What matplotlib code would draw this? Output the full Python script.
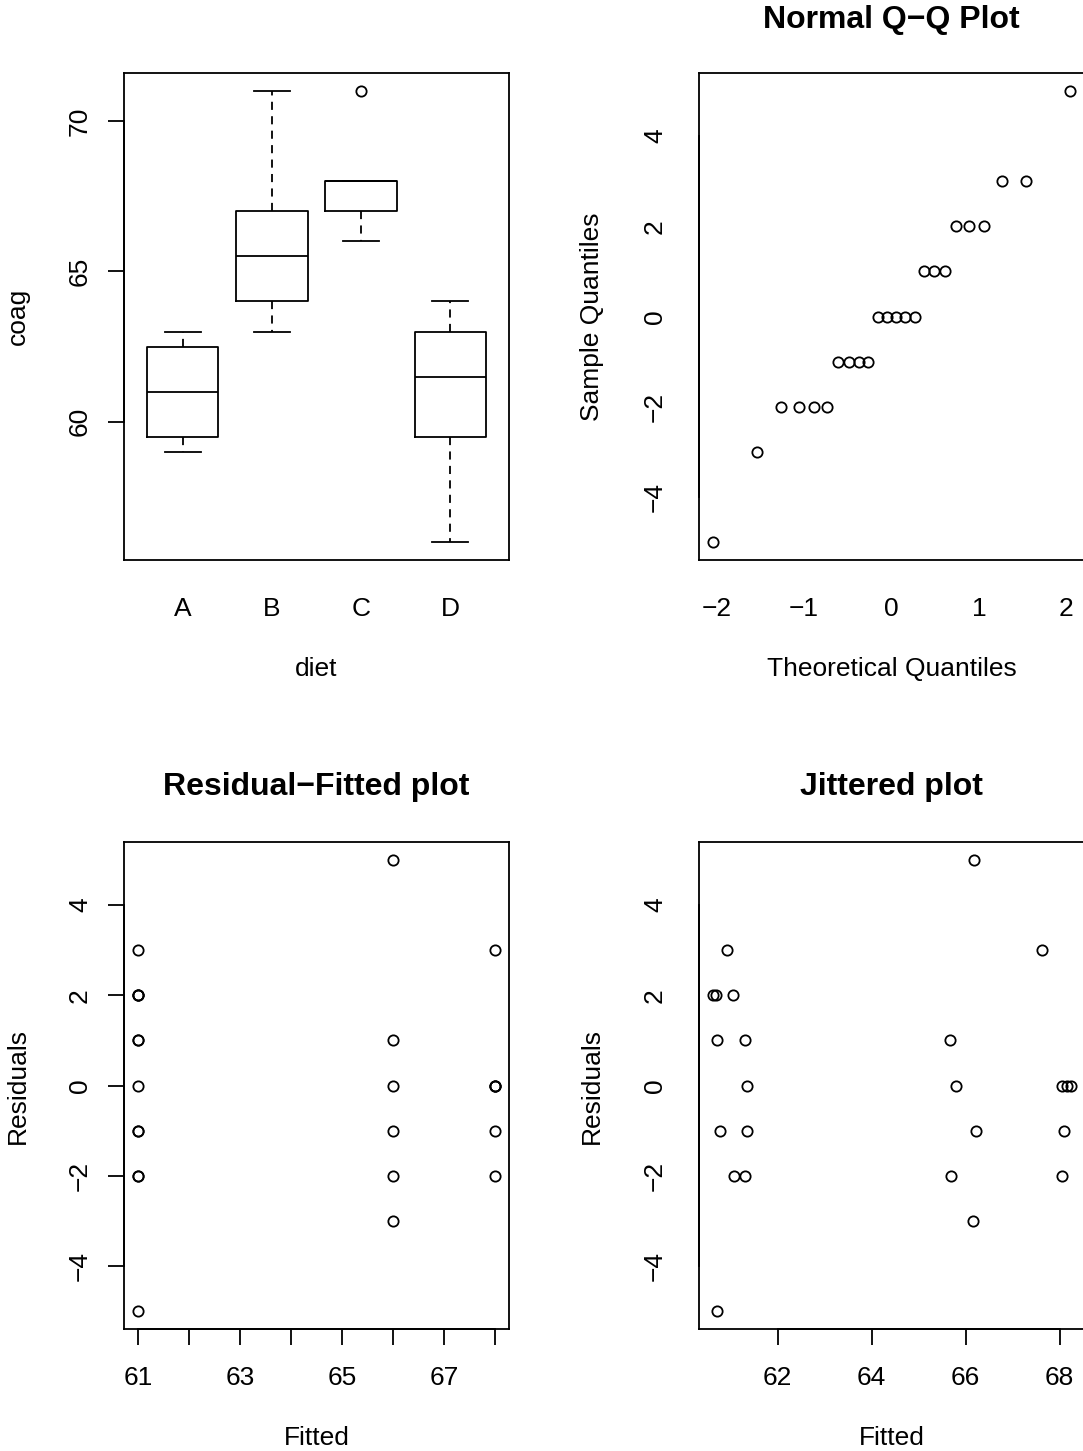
import numpy as np
import matplotlib
matplotlib.use("Agg")
import matplotlib.pyplot as plt
from statistics import NormalDist

plt.rcParams['font.family'] = ['Liberation Sans', 'DejaVu Sans']

# coagulation data (faraway)
diet_levels = ["A", "B", "C", "D"]
coag_A = [62, 60, 63, 59]
coag_B = [63, 67, 71, 64, 65, 66]
coag_C = [68, 66, 71, 67, 68, 68]
coag_D = [56, 62, 60, 61, 63, 64, 63, 59]

# jittered fitted values, paired with residuals
jit_fitted = [66.19, 60.93, 67.62, 60.63, 60.70, 61.06, 60.71, 61.31, 65.67,
              61.36, 65.79, 68.06, 68.15, 68.24, 60.77, 61.35, 66.22, 68.09,
              61.08, 61.31, 65.70, 68.06, 66.15, 60.71]
jit_resid = [5, 3, 3, 2, 2, 2, 1, 1, 1,
             0, 0, 0, 0, 0, -1, -1, -1, -1,
             -2, -2, -2, -2, -3, -5]

W, H = 1083, 1451
fig = plt.figure(figsize=(W / 100, H / 100), dpi=100)

LW = 1.3
FS = 19
TICK_PX = 16


def rect(left, top):
    return [left / W, 1 - (top + 487) / H, 385 / W, 487 / H]


def ftext(x, y, s, **kw):
    fig.text(x / W, 1 - y / H, s, ha='center', va='center', **kw)


def fivenum(v):
    v = np.sort(np.asarray(v, dtype=float))
    n = len(v)
    n4 = np.floor((n + 3) / 2) / 2
    d = np.array([1, n4, (n + 1) / 2, n + 1 - n4, n]) - 1
    return 0.5 * (v[np.floor(d).astype(int)] + v[np.ceil(d).astype(int)])


def minus(vals):
    return [str(t).replace('-', '\u2212') for t in vals]


def style(ax, xt, xl, yt, yl, xticks_on, yticks_on):
    for s in ax.spines.values():
        s.set_linewidth(LW)
    ax.set_xticks(xt, xl)
    ax.set_yticks(yt, yl)
    xlen = TICK_PX if xticks_on else 0
    ylen = TICK_PX if yticks_on else 0
    ax.tick_params(axis='x', length=xlen * 0.72, width=LW, labelsize=FS,
                   pad=(48 - xlen) * 0.72 - 8)
    ax.tick_params(axis='y', length=ylen * 0.72, width=LW, labelsize=FS,
                   pad=(44 - ylen) * 0.72)
    for lab in ax.get_yticklabels():
        lab.set_rotation(90)
        lab.set_va('center')
        lab.set_ha('center')
    # R axis line over the tick range
    ax.plot([0, 0], [yt[0], yt[-1]], transform=ax.get_yaxis_transform(),
            color='black', lw=LW, clip_on=False)
    if xticks_on:
        ax.plot([xt[0], xt[-1]], [0, 0], transform=ax.get_xaxis_transform(),
                color='black', lw=LW, clip_on=False)


groups = [coag_A, coag_B, coag_C, coag_D]

# ---- boxplot ----
ax1 = fig.add_axes(rect(124, 73))
stats = []
for lab, g in zip(diet_levels, groups):
    lo, h1, med, h2, hi = fivenum(g)
    iqr = h2 - h1
    g = np.array(g)
    inside = g[(g >= h1 - 1.5 * iqr) & (g <= h2 + 1.5 * iqr)]
    stats.append(dict(med=med, q1=h1, q3=h2, whislo=inside.min(),
                      whishi=inside.max(),
                      fliers=g[(g < h1 - 1.5 * iqr) | (g > h2 + 1.5 * iqr)],
                      label=lab))
ax1.bxp(stats, positions=[1, 2, 3, 4], widths=0.8, capwidths=0.4,
        boxprops=dict(lw=LW, color='black'),
        medianprops=dict(lw=LW, color='black'),
        whiskerprops=dict(lw=LW, color='black', linestyle=(0, (4.5, 3.5))),
        capprops=dict(lw=LW, color='black'),
        flierprops=dict(marker='o', markersize=7.4, markerfacecolor='none',
                        markeredgecolor='black', markeredgewidth=1.3))
ax1.set_xlim(0.34, 4.66)
ax1.set_ylim(55.4, 71.6)
style(ax1, [1, 2, 3, 4], diet_levels, [60, 65, 70], ["60", "65", "70"],
      False, True)

ptkw = dict(linestyle='none', marker='o', markersize=7.4,
            markerfacecolor='none', markeredgecolor='black',
            markeredgewidth=1.3, clip_on=False)

# residuals from the one-way model
fitted = []
resid = []
for g in groups:
    m = np.mean(g)
    for v in g:
        fitted.append(m)
        resid.append(v - m)
fitted = np.array(fitted)
resid = np.array(resid)

rt = [-4, -2, 0, 2, 4]

# ---- Q-Q plot ----
ax2 = fig.add_axes(rect(699, 73))
n = len(resid)
theo = [NormalDist().inv_cdf((i - 0.5) / n) for i in range(1, n + 1)]
ax2.plot(theo, np.sort(resid), **ptkw)
ax2.set_xlim(-2.2, 2.2)
ax2.set_ylim(-5.4, 5.4)
qt = [-2, -1, 0, 1, 2]
style(ax2, qt, minus(qt), rt, minus(rt), False, False)

# ---- residual vs fitted ----
ax3 = fig.add_axes(rect(124, 842))
ax3.plot(fitted, resid, **ptkw)
ax3.set_xlim(60.72, 68.28)
ax3.set_ylim(-5.4, 5.4)
ft = list(range(61, 69))
style(ax3, ft, [str(t) if t % 2 == 1 else "" for t in ft],
      rt, minus(rt), True, True)

# ---- jittered ----
ax4 = fig.add_axes(rect(699, 842))
ax4.plot(jit_fitted, jit_resid, **ptkw)
ax4.set_xlim(60.33, 68.52)
ax4.set_ylim(-5.4, 5.4)
jt = [62, 64, 66, 68]
style(ax4, jt, [str(t) for t in jt], rt, minus(rt), True, False)

# titles and axis labels
ftext(891.5, 20, "Normal Q\u2212Q Plot", fontsize=23, fontweight='bold')
ftext(316.5, 787, "Residual\u2212Fitted plot", fontsize=23, fontweight='bold')
ftext(891.5, 787, "Jittered plot", fontsize=23, fontweight='bold')
ftext(316.5, 669, "diet", fontsize=FS)
ftext(891.5, 669, "Theoretical Quantiles", fontsize=FS)
ftext(316.5, 1438, "Fitted", fontsize=FS)
ftext(891.5, 1438, "Fitted", fontsize=FS)
ftext(18, 316.5, "coag", fontsize=FS, rotation=90)
ftext(592, 316.5, "Sample Quantiles", fontsize=FS, rotation=90)
ftext(18, 1085.5, "Residuals", fontsize=FS, rotation=90)
ftext(592, 1085.5, "Residuals", fontsize=FS, rotation=90)

fig.savefig("out.png", dpi=100)
